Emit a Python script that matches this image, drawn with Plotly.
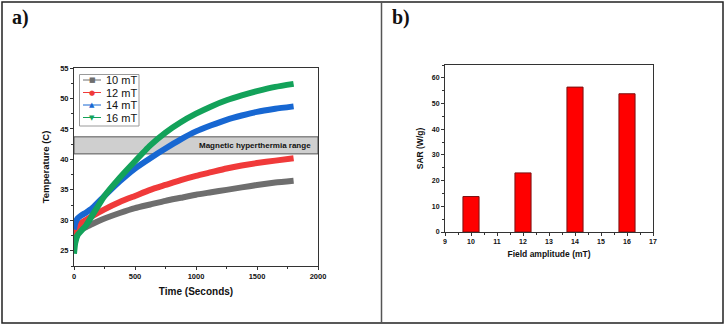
import plotly.graph_objects as go

W, H = 725, 326

# ---- data: panel a (heating curves) ----
time_s = [0, 10, 30, 60, 100, 150, 250, 375, 500, 625, 750, 875, 1000, 1125, 1250, 1375, 1500, 1650, 1800]
temp_10mT = [27.0, 27.6, 28.1, 28.5, 28.9, 29.4, 30.3, 31.2, 32.0, 32.6, 33.2, 33.7, 34.2, 34.6, 35.0, 35.4, 35.8, 36.2, 36.5]
temp_12mT = [27.5, 28.3, 29.0, 29.6, 30.1, 30.7, 31.8, 33.0, 34.0, 35.0, 35.8, 36.6, 37.3, 37.9, 38.5, 39.0, 39.4, 39.8, 40.2]
temp_14mT = [28.5, 29.5, 30.3, 30.8, 31.3, 32.0, 34.0, 36.4, 38.5, 40.2, 41.8, 43.3, 44.6, 45.6, 46.5, 47.2, 47.8, 48.3, 48.7]
temp_16mT = [24.5, 26.3, 27.6, 28.3, 29.2, 30.8, 34.0, 37.0, 39.7, 42.3, 44.4, 46.1, 47.5, 48.7, 49.7, 50.5, 51.2, 51.9, 52.4]
series_names = ["10 mT", "12 mT", "14 mT", "16 mT"]
band_low, band_high = 40.9, 43.7
band_label = "Magnetic hyperthermia range"

# ---- data: panel b (SAR) ----
field_mT = [10, 12, 14, 16]
sar_wg = [13.8, 23.0, 56.4, 53.8]

colors = ["#6e6e6e", "#f03a3a", "#1767d2", "#13a25a"]
glyphs = ["■", "●", "▲", "▼"]

FONT = "Arial, Liberation Sans, Arimo, sans-serif"


def px_x(p):
    return p / W


def px_y(p):
    return 1 - p / H


fig = go.Figure()

series = [temp_10mT, temp_12mT, temp_14mT, temp_16mT]
for name, ys, c in zip(series_names, series, colors):
    fig.add_trace(go.Scatter(x=time_s, y=ys, mode="lines", name=name,
                             line=dict(color=c, width=6, shape="spline", smoothing=0.5),
                             showlegend=False, xaxis="x", yaxis="y", hoverinfo="skip"))

fig.add_trace(go.Bar(x=field_mT, y=sar_wg, width=0.62,
                     marker=dict(color="#ff0000", line=dict(color="#7a1010", width=1)),
                     showlegend=False, xaxis="x2", yaxis="y2"))

axis_common = dict(showline=True, linecolor="#333333", linewidth=1, mirror=True, showgrid=False, zeroline=False,
                   ticks="outside", ticklen=3, tickcolor="#333333", automargin=False)

shapes = [
    # hyperthermia band
    dict(type="rect", xref="x", yref="y", x0=0, x1=2000, y0=band_low, y1=band_high,
         fillcolor="#cfcfcf", line=dict(color="#555555", width=1), layer="below"),
    # outer frame
    dict(type="rect", xref="paper", yref="paper", x0=px_x(2), x1=px_x(723), y0=px_y(323), y1=px_y(2),
         line=dict(color="#222222", width=1.5)),
    dict(type="line", xref="paper", yref="paper", x0=px_x(381.5), x1=px_x(381.5), y0=px_y(323), y1=px_y(2),
         line=dict(color="#555555", width=1.5)),
    # legend box
    dict(type="rect", xref="paper", yref="paper", x0=px_x(79.5), x1=px_x(139), y0=px_y(126), y1=px_y(74.5),
         line=dict(color="#9a9a9a", width=1), fillcolor="rgba(255,255,255,0)"),
]

annotations = [
    dict(text="<b>" + band_label + "</b>", xref="x", yref="y", x=1960, y=(band_low + band_high) / 2,
         xanchor="right", yanchor="middle", showarrow=False, font=dict(family=FONT, size=8, color="#111111")),
    dict(text="<b>a)</b>", xref="paper", yref="paper", x=px_x(10), y=px_y(4), xanchor="left", yanchor="top",
         showarrow=False, font=dict(family="Liberation Serif, Times New Roman, serif", size=20, color="#111111")),
    dict(text="<b>b)</b>", xref="paper", yref="paper", x=px_x(390), y=px_y(4), xanchor="left", yanchor="top",
         showarrow=False, font=dict(family="Liberation Serif, Times New Roman, serif", size=20, color="#111111")),
]

# manual legend (compact, like the original)
row_y = [80, 92.5, 105, 117.5]
for name, c, g, ry in zip(series_names, colors, glyphs, row_y):
    shapes.append(dict(type="line", xref="paper", yref="paper", x0=px_x(83), x1=px_x(101),
                       y0=px_y(ry), y1=px_y(ry), line=dict(color=c, width=1)))
    annotations.append(dict(text=g, xref="paper", yref="paper", x=px_x(92), y=px_y(ry), xanchor="center",
                            yanchor="middle", showarrow=False,
                            font=dict(family="DejaVu Sans", size=7, color=c)))
    annotations.append(dict(text=name, xref="paper", yref="paper", x=px_x(103.5), y=px_y(ry), xanchor="left",
                            yanchor="middle", showarrow=False,
                            font=dict(family=FONT, size=11, color="#111111")))

tickfont = dict(family=FONT, size=7.5, color="#111111", weight="bold")
tickfont2 = dict(family=FONT, size=7, color="#111111", weight="bold")

fig.update_layout(
    width=W, height=H, margin=dict(l=0, r=0, t=0, b=0, autoexpand=False),
    paper_bgcolor="white", plot_bgcolor="white",
    font=dict(family=FONT, color="#111111"),
    showlegend=False,
    xaxis=dict(domain=[px_x(74), px_x(318)], range=[0, 2000], anchor="y", tickvals=[0, 500, 1000, 1500, 2000],
               minor=dict(ticks="outside", ticklen=2, dtick=250, tick0=0, tickcolor="#333333"),
               tickfont=tickfont,
               title=dict(text="<b>Time (Seconds)</b>", font=dict(family=FONT, size=10), standoff=7),
               **axis_common),
    yaxis=dict(domain=[px_y(266), px_y(68)], range=[22.5, 55], anchor="x", tickvals=[25, 30, 35, 40, 45, 50, 55],
               minor=dict(ticks="outside", ticklen=2, dtick=2.5, tick0=0, tickcolor="#333333"),
               tickfont=tickfont,
               title=dict(text="<b>Temperature (C)</b>", font=dict(family=FONT, size=9.5), standoff=8),
               **axis_common),
    xaxis2=dict(domain=[px_x(445), px_x(653)], range=[9, 17], anchor="y2", dtick=1,
                minor=dict(ticks="outside", ticklen=2, dtick=0.5, tick0=0, tickcolor="#333333"),
                tickfont=tickfont2,
                title=dict(text="<b>Field amplitude (mT)</b>", font=dict(family=FONT, size=8.5), standoff=6),
                **axis_common),
    yaxis2=dict(domain=[px_y(232), px_y(65)], range=[0, 65], anchor="x2", tickvals=[0, 10, 20, 30, 40, 50, 60],
                minor=dict(ticks="outside", ticklen=2, dtick=5, tick0=0, tickcolor="#333333"),
                tickfont=tickfont2,
                title=dict(text="<b>SAR (W/g)</b>", font=dict(family=FONT, size=8.5), standoff=6),
                **axis_common),
    shapes=shapes, annotations=annotations,
)

fig.write_html("out.html", config={"displayModeBar": False, "staticPlot": True},
               post_script="document.body.style.margin='0';document.body.style.padding='0';"
                           "document.body.style.overflow='hidden';")
